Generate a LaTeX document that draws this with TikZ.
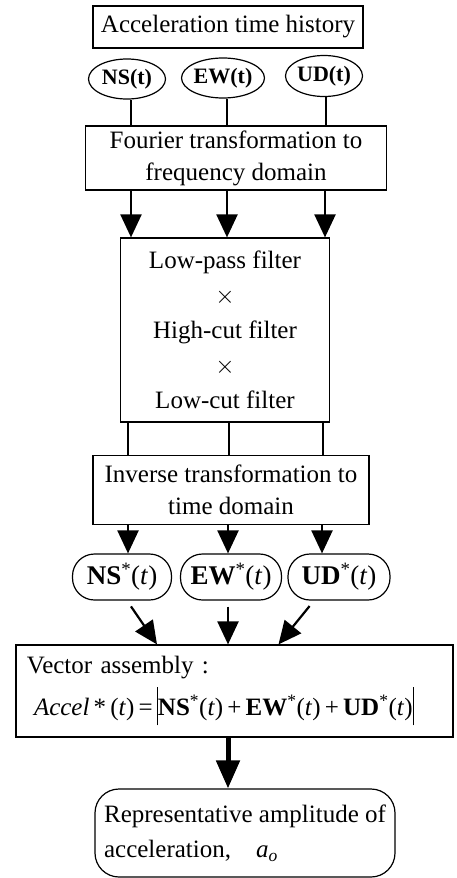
\documentclass[tikz,border=0pt]{standalone}
\usepackage{fontspec}
\setmainfont{Liberation Serif}
\usetikzlibrary{arrows.meta,shapes.geometric}
\newcommand\absbar{\rule[-10pt]{1.1pt}{38pt}}
\newcommand\comp[1]{\textbf{#1}\textsuperscript{*}(\textit{t})}

\begin{document}
\begin{tikzpicture}[x=1pt, y=-1pt,
    every node/.style={font=\fontsize{25}{32}\selectfont, inner sep=0pt},
    box/.style={draw, line width=1.2pt, align=center},
    sig/.style={draw, ellipse, line width=1.2pt, font=\fontsize{22}{25}\selectfont\bfseries},
    pill/.style={draw, line width=1.2pt, rounded corners=22pt},
    link/.style={line width=2.2pt},
    arr/.style={line width=2.2pt, -{Triangle[width=21pt,length=23pt]}},
    bigarr/.style={line width=5pt, -{Triangle[width=23pt,length=28pt]}}]
    \useasboundingbox (0,0) rectangle (456,878);
    \node[box, minimum width=270, minimum height=42] (acc) at (228,27) {Acceleration time history};
    \node[sig, minimum width=77, minimum height=40] (ns) at (127,79) {NS(t)};
    \node[sig, minimum width=78, minimum height=40] (ew) at (223,78) {EW(t)};
    \node[sig, minimum width=77, minimum height=41] (ud) at (324,76) {UD(t)};
    \node[box, minimum width=301, minimum height=64] (four) at (236,158) {Fourier transformation to\\frequency domain};
    \node[box, minimum width=209, minimum height=184] (filt) at (225,330) {Low-pass filter\\[3pt]$\times$\\[3pt]High-cut filter\\[3pt]$\times$\\[3pt]Low-cut filter};
    \node[box, minimum width=276, minimum height=69] (inv) at (231,490) {Inverse transformation to\\time domain};
    \node[pill, font=\fontsize{27}{32}\selectfont, minimum width=99, minimum height=46] (nss) at (122,577) {\comp{NS}};
    \node[pill, font=\fontsize{27}{32}\selectfont, minimum width=101, minimum height=46] (ews) at (231,577) {\comp{EW}};
    \node[pill, font=\fontsize{27}{32}\selectfont, minimum width=102, minimum height=46] (uds) at (339,577) {\comp{UD}};
    \node[box, align=left, text width=415, inner xsep=11, minimum height=92] (vec) at (234.5,691)
      {Vector assembly :\\[7pt]\hspace*{7pt}\textit{Accel}\,*\,(\textit{t})\,=\,\absbar\comp{NS}\,+\,\comp{EW}\,+\,\comp{UD}\absbar};
    \node[pill, rounded corners=24pt, align=left, minimum width=300, minimum height=88] (amp) at (245,833)
      {Representative amplitude of\\[3pt]acceleration,\quad\textit{a}\textsubscript{\textit{o}}};
    \foreach \n/\dx in {ns/4, ew/4, ud/2}
      \draw[link] ([xshift=\dx]\n.south) -- ([xshift=\dx]\n.south |- four.north);
    \foreach \x in {131,227,325}
      \draw[arr] (four.south -| \x,0) -- (filt.north -| \x,0);
    \foreach \x in {128,229,323}
      \draw[link] (filt.south -| \x,0) -- (inv.north -| \x,0);
    \foreach \n/\x in {nss/128, ews/228, uds/322}
      \draw[arr] (inv.south -| \x,0) -- (\n.north -| \x,0);
    \draw[arr, shorten <=7pt] ([xshift=5]nss.south) -- ([xshift=-77.5]vec.north);
    \draw[arr, shorten <=6pt] (ews.south -| 228,0) -- (vec.north -| 228,0);
    \draw[arr, shorten <=7pt] ([xshift=-25]uds.south) -- ([xshift=44]vec.north);
    \draw[bigarr] (vec.south -| 228,0) -- (amp.north -| 228,0);
\end{tikzpicture}
\end{document}
